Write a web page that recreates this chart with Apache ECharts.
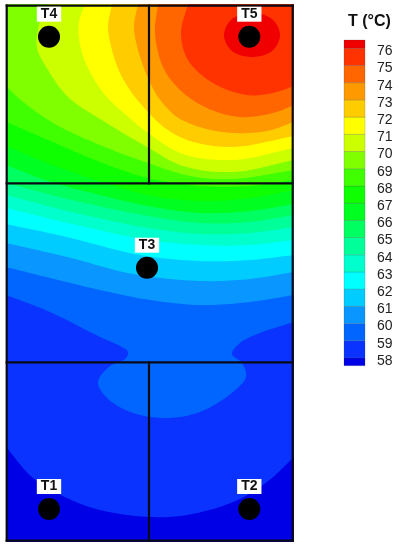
<!DOCTYPE html>
<html>
<head>
<meta charset="utf-8">
<style>html,body{margin:0;padding:0;background:#fff}#c{width:401px;height:546px}</style>
<script src="https://cdn.jsdelivr.net/npm/echarts@6/dist/echarts.min.js"></script>
</head>
<body>
<div id="c"></div>
<script>
// Temperature band limits and colours (lowest band first)
const bandLimits = [57.55,58,59,60,61,62,63,64,65,66,67,68,69,70,71,72,73,74,75,76,76.48];
const bandColors = ['#0000e6','#0a33ff','#0066ff','#0a96ff','#00ccff','#00ffff','#00ffcc','#00ff99','#00ff60','#00ff20','#10ff00','#40ff00','#80ff00','#ccff00','#ffff00','#ffcc00','#ff9900','#ff6600','#ff3300','#f00000'];
const tickValues = [58,59,60,61,62,63,64,65,66,67,68,69,70,71,72,73,74,75,76];

// Isotherms, [x, y] on the plot's position scales
const iso58 = [[6,447],[33,478],[67,498],[100,510],[150,517],[187,515],[233,502],[267,482],[294,457]];
const iso59 = [[6,295],[50,312],[100,337],[120,346],[128,352],[125,359],[110,366],[98,382],[107,398],[133,413],[167,418],[200,412],[233,392],[246,377],[242,363],[232,354],[240,343],[260,333],[294,322]];
const iso60 = [[6,267],[50,278],[100,290],[150,300],[200,305],[250,302],[294,295]];
const iso61 = [[6,243],[67,257],[133,274],[200,281],[250,279],[294,272]];
const iso62 = [[6,224],[67,237],[140,255],[200,261],[250,260],[294,255]];
const iso63 = [[6,208],[72,224],[148,240],[200,245],[250,245],[294,240]];
const iso64 = [[6,195],[72,212],[148,228],[200,234],[250,233],[294,227]];
const iso65 = [[6,183],[72,200],[148,216],[200,223],[250,222],[294,215]];
const iso66 = [[6,165],[48,181],[100,195],[148,206],[200,213],[250,211],[294,204]];
const iso67 = [[6,146],[55,166],[105,183],[148,195],[200,201],[250,198],[294,190]];
const iso68 = [[6,122],[55,143],[100,162],[148,178],[200,186],[250,186],[294,180]];
const iso69 = [[6,86],[22,101],[55,124],[100,145],[148,163],[190,176],[233,179],[294,170]];
const iso70 = [[48,4],[39,25],[37,48],[48,70],[68,97],[105,122],[147,147],[183,166],[233,172],[294,160]];
const iso71 = [[85,4],[79,22],[80,45],[88,68],[105,95],[125,114],[148,133],[183,154],[233,160],[294,148]];
const iso72 = [[112,4],[108,27],[112,50],[120,73],[132,93],[148,112],[165,128],[190,141],[233,147],[294,136]];
const iso73 = [[138,4],[134,27],[140,57],[149,80],[158,97],[177,117],[203,128],[233,133],[267,131],[294,122]];
const iso74 = [[158,4],[155,33],[163,67],[180,90],[207,108],[240,117],[273,113],[294,105]];
const iso75 = [[188,4],[181,33],[188,60],[213,83],[247,95],[273,93],[294,86]];
const core76 = [[252,13],[272,19],[280,35],[272,51],[252,57],[232,51],[224,35],[232,19]];
const isotherms = [iso58,iso59,iso60,iso61,iso62,iso63,iso64,iso65,iso66,iso67,iso68,iso69,iso70,iso71,iso72,iso73,iso74,iso75];

// Room walls: [x1, y1, x2, y2]
const walls = [[6.7,5.7,292.7,5.7],[292.7,5.7,292.7,540.7],[292.7,540.7,6.7,540.7],[6.7,540.7,6.7,5.7],[6.7,183.3,292.7,183.3],[6.7,362.3,292.7,362.3],[149,5.7,149,183.3],[149,362.3,149,540.7]];

// Sensors
const sensorNames = ['T1','T2','T3','T4','T5'];
const sensorX = [49,249.3,147,49,249.3];
const sensorY = [509,509,267.7,36.7,36.7];

const xMin = 6, xMax = 294, yMin = 4, yMax = 542;

// Centripetal Catmull-Rom outline through the read points
function spline(pts, closed) {
  const n = pts.length, out = [], steps = 12;
  const at = i => {
    if (closed) return pts[(i + n) % n];
    if (i < 0) return [2 * pts[0][0] - pts[1][0], 2 * pts[0][1] - pts[1][1]];
    if (i >= n) return [2 * pts[n - 1][0] - pts[n - 2][0], 2 * pts[n - 1][1] - pts[n - 2][1]];
    return pts[i];
  };
  const mix = (a, b, ta, tb, t) => [0, 1].map(k => (a[k] * (tb - t) + b[k] * (t - ta)) / (tb - ta));
  const knot = (t, a, b) => t + Math.max(1e-3, Math.sqrt(Math.hypot(b[0] - a[0], b[1] - a[1])));
  const segs = closed ? n : n - 1;
  for (let i = 0; i < segs; i++) {
    const p0 = at(i - 1), p1 = at(i), p2 = at(i + 1), p3 = at(i + 2);
    const t0 = 0, t1 = knot(t0, p0, p1), t2 = knot(t1, p1, p2), t3 = knot(t2, p2, p3);
    for (let s = 0; s < steps; s++) {
      const t = t1 + (t2 - t1) * s / steps;
      const a1 = mix(p0, p1, t0, t1, t), a2 = mix(p1, p2, t1, t2, t), a3 = mix(p2, p3, t2, t3, t);
      const b1 = mix(a1, a2, t0, t2, t), b2 = mix(a2, a3, t1, t3, t);
      out.push(mix(b1, b2, t1, t2, t));
    }
  }
  if (!closed) out.push(pts[n - 1]);
  return out;
}

function renderField(params, api) {
  const i = params.dataIndex;
  let shape;
  if (i === 0) {
    shape = [[xMin, yMin], [xMax, yMin], [xMax, yMax], [xMin, yMax]];
  } else if (i === isotherms.length + 1) {
    shape = spline(core76, true);
  } else {
    const curve = isotherms[i - 1];
    shape = spline(curve, false);
    shape.push([xMax, yMin]);
    if (curve[0][0] === xMin) shape.push([xMin, yMin]);
  }
  return {
    type: 'polygon',
    shape: { points: shape.map(p => api.coord(p)) },
    style: { fill: bandColors[i], stroke: null }
  };
}

function renderWall(params, api) {
  const w = walls[params.dataIndex];
  const a = api.coord([w[0], w[1]]), b = api.coord([w[2], w[3]]);
  return {
    type: 'line',
    shape: { x1: a[0], y1: a[1], x2: b[0], y2: b[1] },
    style: { stroke: '#0a0a14', lineWidth: 2.2, lineCap: 'square' }
  };
}

function renderBand(params, api) {
  const a = api.coord([0, api.value(1)]), b = api.coord([1, api.value(0)]);
  return {
    type: 'rect',
    shape: { x: a[0], y: a[1], width: b[0] - a[0], height: b[1] - a[1] },
    style: { fill: bandColors[params.dataIndex], stroke: 'rgba(40,60,60,0.28)', lineWidth: 0.7 }
  };
}

const chart = echarts.init(document.getElementById('c'), null, { renderer: 'canvas' });
chart.setOption({
  animation: false,
  backgroundColor: '#fff',
  title: {
    text: 'T (°C)', left: 343, top: 9,
    textStyle: { fontFamily: 'Liberation Sans', fontSize: 16, fontWeight: 'bold', color: '#111' }
  },
  grid: [
    { left: xMin, top: yMin, width: xMax - xMin, height: yMax - yMin, show: false },
    { left: 344, top: 40, width: 21, height: 325.7, show: false },
    { left: 344, top: 43, width: 21, height: 325.7, show: false }
  ],
  xAxis: [
    { gridIndex: 0, type: 'value', min: xMin, max: xMax, show: false },
    { gridIndex: 1, type: 'value', min: 0, max: 1, show: false },
    { gridIndex: 2, type: 'value', min: 0, max: 1, show: false }
  ],
  yAxis: [
    { gridIndex: 0, type: 'value', min: yMin, max: yMax, inverse: true, show: false },
    { gridIndex: 1, type: 'value', min: bandLimits[0], max: bandLimits[bandLimits.length - 1], show: false },
    {
      gridIndex: 2, type: 'value', position: 'right',
      min: bandLimits[0], max: bandLimits[bandLimits.length - 1],
      splitLine: { show: false },
      axisLine: { show: false }, axisTick: { show: false },
      axisLabel: {
        show: true, margin: 12,
        fontFamily: 'Liberation Sans', fontSize: 14, color: '#222',
        customValues: tickValues
      }
    }
  ],
  series: [
    {
      type: 'custom', xAxisIndex: 0, yAxisIndex: 0, clip: true, z: 1, silent: true,
      data: bandColors.map((c, i) => [i]), renderItem: renderField
    },
    {
      type: 'custom', xAxisIndex: 0, yAxisIndex: 0, clip: false, z: 2, silent: true,
      data: walls, renderItem: renderWall
    },
    {
      type: 'scatter', xAxisIndex: 0, yAxisIndex: 0, z: 3, silent: true,
      symbol: 'circle', symbolSize: 22, clip: false,
      itemStyle: { color: '#000', opacity: 1 },
      data: sensorNames.map((n, i) => ({ name: n, value: [sensorX[i], sensorY[i]] })),
      label: {
        show: true, position: 'top', distance: 4, formatter: '{b}',
        fontFamily: 'Liberation Sans', fontSize: 14, fontWeight: 'bold', color: '#111',
        backgroundColor: '#fff', padding: [1, 4], lineHeight: 13
      }
    },
    {
      type: 'custom', xAxisIndex: 1, yAxisIndex: 1, clip: false, z: 1, silent: true,
      data: bandColors.map((c, i) => [bandLimits[i], bandLimits[i + 1]]),
      encode: { y: [0, 1] }, renderItem: renderBand
    }
  ]
});
</script>
</body>
</html>
